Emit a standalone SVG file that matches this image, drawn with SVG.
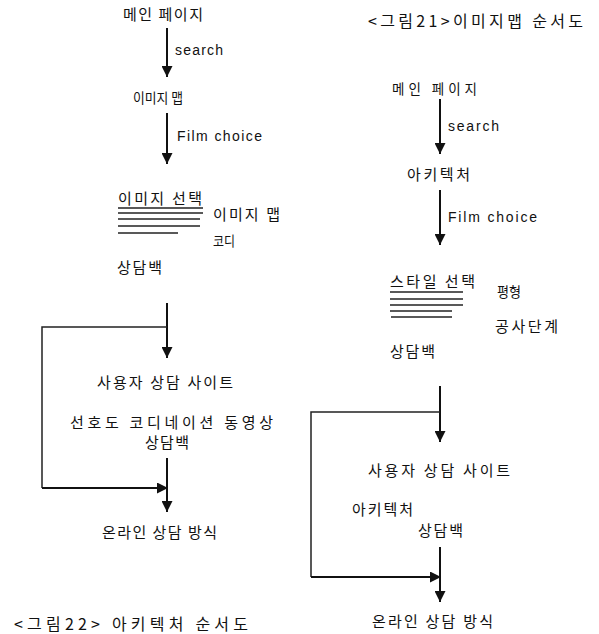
<svg xmlns="http://www.w3.org/2000/svg" width="599" height="634" viewBox="0 0 599 634">
<style>
.k{font-family:"Noto Sans CJK KR","Noto Sans",sans-serif;font-size:15px;fill:#111}
.s{font-size:14px}
.m{font-size:13.5px}
.e{font-family:"Liberation Sans",Arial,sans-serif;font-size:14px;fill:#111}
.cap{font-family:"Noto Sans CJK KR",serif;font-size:16px;fill:#111}
.ln{stroke:#111;stroke-width:2;fill:none}
.th{stroke:#222;stroke-width:1.5;fill:none}
.ul{stroke:#222;stroke-width:1.3}
</style>
<defs>
<marker id="ah" viewBox="0 0 10 10" refX="10" refY="5" markerWidth="6" markerHeight="5.5" orient="auto" markerUnits="strokeWidth">
<path d="M0,0 L10,5 L0,10 z" fill="#111"/>
</marker>
</defs>
<rect width="599" height="634" fill="#fff"/>

<g id="connectors">
<line class="ln" x1="167" y1="28" x2="167" y2="77" marker-end="url(#ah)"/>
<line class="ln" x1="167" y1="113" x2="167" y2="164" marker-end="url(#ah)"/>
<line class="ln" x1="167" y1="303" x2="167" y2="358" marker-end="url(#ah)"/>
<polyline class="th" points="167,327 42,327 42,488"/>
<line class="ln" x1="42" y1="488" x2="168" y2="488" marker-end="url(#ah)"/>
<line class="ln" x1="167" y1="458" x2="167" y2="512" marker-end="url(#ah)"/>
<line class="ln" x1="440" y1="99" x2="440" y2="154" marker-end="url(#ah)"/>
<line class="ln" x1="440" y1="190" x2="440" y2="245" marker-end="url(#ah)"/>
<line class="ln" x1="440" y1="386" x2="440" y2="442" marker-end="url(#ah)"/>
<polyline class="th" points="440,412 311,412 311,577"/>
<line class="ln" x1="311" y1="577" x2="441" y2="577" marker-end="url(#ah)"/>
<line class="ln" x1="440" y1="547" x2="440" y2="602" marker-end="url(#ah)"/>
</g>

<g id="left-main"><text class="k" x="123" y="20" textLength="80" lengthAdjust="spacing">메인 페이지</text></g>
<g id="left-search"><text class="e" x="175" y="55" textLength="48" lengthAdjust="spacing">search</text></g>
<g id="left-imagemap"><text class="k s" x="133" y="103" textLength="50" lengthAdjust="spacingAndGlyphs">이미지 맵</text></g>
<g id="left-film"><text class="e" x="177" y="141" textLength="85" lengthAdjust="spacing">Film choice</text></g>
<g id="left-select">
<text class="k" x="118" y="204" textLength="84" lengthAdjust="spacing">이미지 선택</text>
<line class="ul" x1="118" y1="208" x2="203" y2="208"/>
<line class="ul" x1="118" y1="213" x2="203" y2="213"/>
<line class="ul" x1="118" y1="219" x2="200" y2="219"/>
<line class="ul" x1="118" y1="226" x2="200" y2="226"/>
<line class="ul" x1="118" y1="233" x2="178" y2="233"/>
</g>
<g id="left-imagemap2"><text class="k" x="213" y="220" textLength="67" lengthAdjust="spacing">이미지 맵</text></g>
<g id="left-codi"><text class="k s" x="213" y="246" textLength="22" lengthAdjust="spacingAndGlyphs">코디</text></g>
<g id="left-bag1"><text class="k" x="117" y="273" textLength="45" lengthAdjust="spacing">상담백</text></g>
<g id="left-site"><text class="k" x="97" y="388" textLength="136" lengthAdjust="spacing">사용자 상담 사이트</text></g>
<g id="left-pref"><text class="k" x="70" y="428" textLength="203" lengthAdjust="spacing">선호도 코디네이션 동영상</text></g>
<g id="left-bag2"><text class="k" x="145" y="448" textLength="44" lengthAdjust="spacing">상담백</text></g>
<g id="left-online"><text class="k" x="102" y="538" textLength="115" lengthAdjust="spacing">온라인 상담 방식</text></g>
<g id="left-caption"><text class="cap" x="14" y="630" textLength="234" lengthAdjust="spacing">&lt;그림22&gt; 아키텍처 순서도</text></g>

<g id="right-caption"><text class="cap" x="368" y="27" textLength="215" lengthAdjust="spacing">&lt;그림21&gt;이미지맵 순서도</text></g>
<g id="right-main"><text class="k m" x="392" y="94" textLength="85" lengthAdjust="spacing">메인 페이지</text></g>
<g id="right-search"><text class="e" x="448" y="131" textLength="51" lengthAdjust="spacing">search</text></g>
<g id="right-arch"><text class="k" x="407" y="180" textLength="63" lengthAdjust="spacing">아키텍처</text></g>
<g id="right-film"><text class="e" x="448" y="222" textLength="89" lengthAdjust="spacing">Film choice</text></g>
<g id="right-select">
<text class="k" x="390" y="287" textLength="85" lengthAdjust="spacing">스타일 선택</text>
<line class="ul" x1="390" y1="292" x2="463" y2="292"/>
<line class="ul" x1="390" y1="299" x2="463" y2="299"/>
<line class="ul" x1="390" y1="305" x2="463" y2="305"/>
<line class="ul" x1="390" y1="311" x2="452" y2="311"/>
<line class="ul" x1="391" y1="317" x2="452" y2="317"/>
</g>
<g id="right-balance"><text class="k s" x="497" y="297" textLength="24" lengthAdjust="spacingAndGlyphs">평형</text></g>
<g id="right-stage"><text class="k" x="495" y="332" textLength="63" lengthAdjust="spacing">공사단계</text></g>
<g id="right-bag1"><text class="k" x="390" y="357" textLength="45" lengthAdjust="spacing">상담백</text></g>
<g id="right-site"><text class="k" x="368" y="476" textLength="142" lengthAdjust="spacing">사용자 상담 사이트</text></g>
<g id="right-arch2"><text class="k" x="352" y="515" textLength="61" lengthAdjust="spacing">아키텍처</text></g>
<g id="right-bag2"><text class="k" x="418" y="536" textLength="45" lengthAdjust="spacing">상담백</text></g>
<g id="right-online"><text class="k" x="372" y="627" textLength="121" lengthAdjust="spacing">온라인 상담 방식</text></g>
</svg>
